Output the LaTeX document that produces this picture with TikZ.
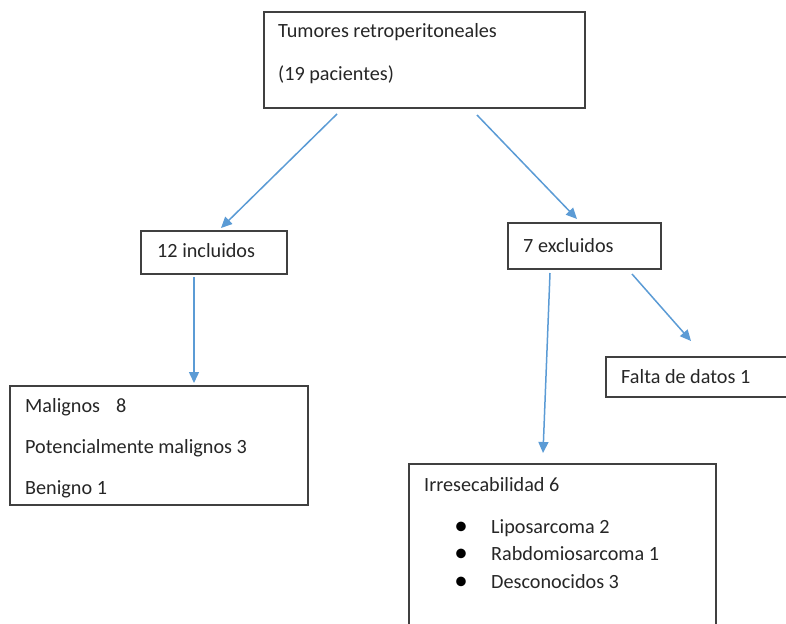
\documentclass[tikz,border=0pt]{standalone}
\usepackage{fontspec}
\setmainfont{Carlito}
\usetikzlibrary{arrows.meta}
\definecolor{arrowblue}{HTML}{5B9BD5}
\definecolor{boxgray}{HTML}{404040}
\tikzset{
  box/.style={draw=boxgray, line width=1.1pt, anchor=north west, inner sep=0pt, outer sep=0pt},
  txt/.style={anchor=base west, inner sep=0pt, font=\fontsize{20.2}{24}\selectfont, text=black!85},
  bul/.style={anchor=base, inner sep=0pt, font=\fontsize{27}{30}\selectfont, text=black},
  conn/.style={draw=arrowblue, line width=1.5pt, -{Triangle[length=11pt,width=10pt]}}
}
\begin{document}
\begin{tikzpicture}[x=1pt,y=-1pt]
\useasboundingbox (0,0) rectangle (786,623);
\clip (0,0) rectangle (786,623);
% boxes
\node[box, minimum width=321pt, minimum height=96pt] (top) at (264,12) {};
\node[box, minimum width=146pt, minimum height=43pt] (inc) at (141,231) {};
\node[box, minimum width=153pt, minimum height=46pt] (exc) at (508,223) {};
\node[box, minimum width=190pt, minimum height=40pt] (falta) at (606,357) {};
\node[box, minimum width=298pt, minimum height=119pt] (mal) at (10,386) {};
\node[box, minimum width=307pt, minimum height=180pt] (irr) at (409,464) {};
% texts
\node[txt] (t1) at (278,38) {Tumores retroperitoneales};
\node[txt] (t2) at (278,81) {(19 pacientes)};
\node[txt] (t3) at (157,257) {12 incluidos};
\node[txt] (t4) at (523,252) {7 excluidos};
\node[txt] (t5) at (621,383) {Falta de datos 1};
\node[txt] (t6) at (25,412) {Malignos\hspace{0.8em}8};
\node[txt] (t7) at (25,453) {Potencialmente malignos 3};
\node[txt] (t8) at (25,494) {Benigno 1};
\node[txt] (t9) at (424,491) {Irresecabilidad 6};
\node[bul] (b1) at (461,534) {•};
\node[bul] (b2) at (461,561) {•};
\node[bul] (b3) at (461,589) {•};
\node[txt] (t10) at (491,533) {Liposarcoma 2};
\node[txt] (t11) at (491,560) {Rabdomiosarcoma 1};
\node[txt] (t12) at (491,588) {Desconocidos 3};
% connector end points
\coordinate (a1s) at (337,114);
\coordinate (a1e) at (221,228);
\coordinate (a2s) at (477,115);
\coordinate (a2e) at (577,219);
\coordinate (a3s) at (194,277);
\coordinate (a3e) at (194,383);
\coordinate (a4s) at (550,273);
\coordinate (a4e) at (543,453);
\coordinate (a5s) at (632,274);
\coordinate (a5e) at (691,341);
\draw[conn] (a1s) -- (a1e);
\draw[conn] (a2s) -- (a2e);
\draw[conn] (a3s) -- (a3e);
\draw[conn] (a4s) -- (a4e);
\draw[conn] (a5s) -- (a5e);
\end{tikzpicture}
\end{document}
